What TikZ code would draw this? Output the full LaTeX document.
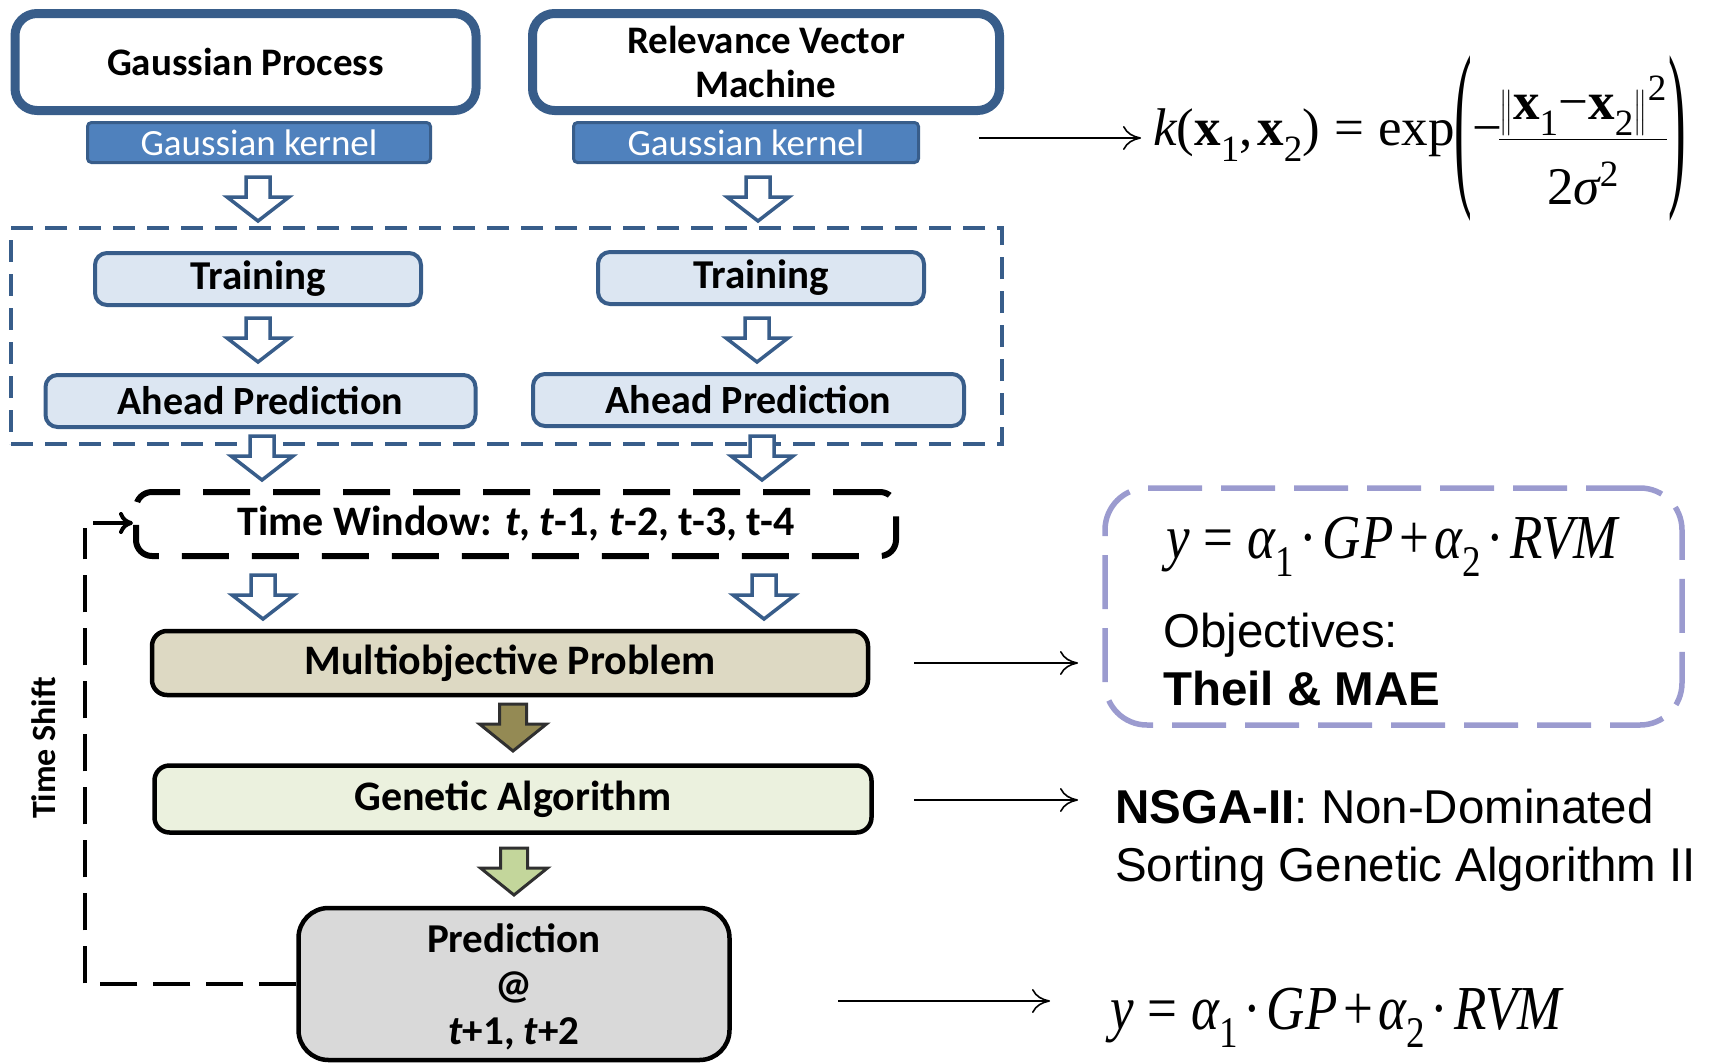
\documentclass[tikz,border=0pt]{standalone}
\usepackage{fontspec}
\usepackage{amsmath}
\usepackage{graphicx}
\usetikzlibrary{arrows.meta}

\newfontfamily\calfont{Carlito}
\newfontfamily\arialfont{Liberation Sans}
\newfontfamily\tmsfont{Liberation Serif}

\definecolor{bdark}{HTML}{385D8A}
\definecolor{kfill}{HTML}{4F81BD}
\definecolor{lblue}{HTML}{DCE6F2}
\definecolor{mopfill}{HTML}{DDD9C3}
\definecolor{gafill}{HTML}{EBF1DE}
\definecolor{predfill}{HTML}{D9D9D9}
\definecolor{olivearr}{HTML}{948A54}
\definecolor{greenarr}{HTML}{C3D69B}
\definecolor{arrline}{HTML}{303030}
\definecolor{lavender}{HTML}{9B9BCF}

% formula pieces set in a Times-like face
\newcommand\fmi[1]{\text{\tmsfont\itshape #1}}
\newcommand\fmr[1]{\text{\tmsfont #1}}
\newcommand\fmb[1]{\text{\tmsfont\bfseries #1}}
\newcommand\tallparen[1]{\vcenter{\hbox{\scalebox{1}[3.45]{\tmsfont #1}}}}
\newcommand\combo{\scalebox{1}[1.18]{$\fmi{y}\;\mathrel{\fmr{=}}\;\fmi{α}_{\fmr{1}}\mathbin{\fmr{·}}\fmi{GP}\mathbin{\fmr{+}}\fmi{α}_{\fmr{2}}\mathbin{\fmr{·}}\fmi{RVM}$}}

\begin{document}
\begin{tikzpicture}[x=1pt,y=-1pt,
  lbl/.style={font=\calfont\bfseries\fontsize{39}{44}\selectfont, align=center, inner sep=0pt},
  biglbl/.style={font=\calfont\bfseries\fontsize{42}{46}\selectfont},
  modelbox/.style={lbl, draw=bdark, line width=9pt, fill=white, rounded corners=22pt},
  kernelbox/.style={draw=bdark, line width=3pt, fill=kfill, rounded corners=4pt,
    text=white, font=\calfont\fontsize{37}{40}\selectfont, inner sep=0pt},
  trainbox/.style={lbl, draw=bdark, line width=4pt, fill=lblue, rounded corners=12pt},
  blackbox/.style={lbl, biglbl, draw=black, line width=4.5pt, rounded corners=15pt},
  groupframe/.style={draw=bdark, line width=4.5pt, dash pattern=on 22pt off 12pt},
  windowbox/.style={lbl, biglbl, draw=black, line width=6pt, dash pattern=on 47pt off 23pt, rounded corners=16pt},
  objframe/.style={draw=lavender, line width=5.5pt, dash pattern=on 54pt off 19pt, rounded corners=42pt},
  feedback/.style={draw=black, line width=4pt, dash pattern=on 37pt off 16pt},
  feedin/.style={draw=black, line width=4pt, -{Computer Modern Rightarrow[length=14pt,width=22pt]}},
  thinarrow/.style={draw=black, line width=1.6pt, -{Computer Modern Rightarrow[length=18pt,width=24pt]}},
  formula/.style={inner sep=0pt, font=\tmsfont\fontsize{53}{58}\selectfont},
  sidetext/.style={inner sep=0pt, font=\arialfont\fontsize{47.5}{54}\selectfont},
  pics/hollowdown/.style={code={
    \draw[line width=3.5pt, draw=bdark, fill=white, line join=miter]
      (-12,0) -- (12,0) -- (12,20) -- (31,20) -- (0,44) -- (-31,20) -- (-12,20) -- cycle;}},
  pics/solidown/.style={code={
    \draw[line width=3pt, draw=arrline, fill=#1, line join=miter]
      (-13.5,0) -- (13.5,0) -- (13.5,20) -- (33.5,20) -- (0,47) -- (-33.5,20) -- (-13.5,20) -- cycle;}}
]
\useasboundingbox (0,0) rectangle (1711,1063);

% two learners with their kernels
\node[modelbox, minimum width=461pt, minimum height=97pt] (gp) at (245.5,62) {Gaussian Process};
\node[modelbox, minimum width=467pt, minimum height=97pt] (rvm) at (766,62) {Relevance Vector\\Machine};
\node[kernelbox, minimum width=343pt, minimum height=40pt] (gpk) at (259,142.5) {Gaussian kernel};
\node[kernelbox, minimum width=345pt, minimum height=40pt] (rvmk) at (746,142.5) {Gaussian kernel};

% kernel definition
\node[formula, anchor=west] (kform) at (1153,139)
  {$\displaystyle \fmi{k}\fmr{(}\fmb{x}_{\fmr{1}}\fmr{,}\,\fmb{x}_{\fmr{2}}\fmr{)}
   \;\mathrel{\fmr{=}}\;\fmr{exp}\tallparen{(}\fmr{−}\!
   \frac{\left\|\fmb{x}_{\fmr{1}}\fmr{−}\fmb{x}_{\fmr{2}}\right\|^{\fmr{2}}}{\rule{0pt}{62pt}\fmr{2}\fmi{σ}^{\fmr{2}}}
   \tallparen{)}$};
\coordinate (kfrom) at (979,138);
\draw[thinarrow] (kfrom) -- ([xshift=-12pt]kfrom -| kform.west);

\pic at (258,177) {hollowdown};
\pic at (758,177) {hollowdown};

% training and ahead prediction
\node[groupframe, minimum width=991pt, minimum height=216pt, inner sep=0pt] (grp) at (506.5,336) {};
\node[trainbox, minimum width=326pt, minimum height=52pt, font=\calfont\bfseries\fontsize{41}{44}\selectfont] (trl) at (258,279) {Training};
\node[trainbox, minimum width=326pt, minimum height=52pt, font=\calfont\bfseries\fontsize{41}{44}\selectfont] (trr) at (761,278) {Training};
\pic at (258,318) {hollowdown};
\pic at (757,318) {hollowdown};
\node[trainbox, minimum width=430pt, minimum height=52pt, font=\calfont\bfseries\fontsize{40}{44}\selectfont] (ahl) at (260.5,401) {Ahead Prediction};
\node[trainbox, minimum width=431pt, minimum height=52pt, font=\calfont\bfseries\fontsize{40}{44}\selectfont] (ahr) at (748.5,400) {Ahead Prediction};
\pic at (262,436) {hollowdown};
\pic at (762,436) {hollowdown};

% sliding time window
\node[windowbox, minimum width=760pt, minimum height=64pt] (tw) at (516,524)
  {Time Window: \textit{t}, \textit{t}-1, \textit{t}-2, t-3, t-4};
\pic at (263,575) {hollowdown};
\pic at (764,575) {hollowdown};

% optimisation chain
\node[blackbox, fill=mopfill, minimum width=716pt, minimum height=64pt] (mop) at (510,663) {Multiobjective Problem};
\pic at (513,704) {solidown=olivearr};
\node[blackbox, fill=gafill, minimum width=717pt, minimum height=67pt] (ga) at (513,799) {Genetic Algorithm};
\pic at (514,848) {solidown=greenarr};
\node[blackbox, fill=predfill, rounded corners=30pt, minimum width=431pt, minimum height=152pt,
  font=\calfont\bfseries\fontsize{41}{46}\selectfont] (pred) at (514,984)
  {\rule{0pt}{34pt}Prediction\\@\\\textit{t}+1, \textit{t}+2};

% time shift feedback
\coordinate (fbtop) at (85,528);
\coordinate (fbin) at (93,523);
\draw[feedback] (pred.west) -| (fbtop);
\draw[feedin] (fbin) -- (fbin -| tw.west);
\node[font=\calfont\bfseries\fontsize{34}{36}\selectfont, rotate=90, inner sep=0pt] (ts) at (44,748) {Time Shift};

% objectives
\node[objframe, minimum width=577pt, minimum height=237pt, inner sep=0pt] (obj) at (1393.5,606.5) {};
\coordinate (mopfrom) at (914,663);
\coordinate (mopto) at (1078,663);
\draw[thinarrow] (mopfrom) -- (mopto);
\node[formula, anchor=base west] (objf) at (1166,558) {\combo};
\node[sidetext, anchor=base west] (objt) at (1163,647) {Objectives:};
\node[sidetext, anchor=base west, font=\arialfont\bfseries\fontsize{47.5}{54}\selectfont] (objm) at (1163,705) {Theil \& MAE};

% optimiser
\node[sidetext, anchor=base west] (ns1) at (1115,823) {\textbf{NSGA-II}: Non-Dominated};
\node[sidetext, anchor=base west] (ns2) at (1115,881) {Sorting Genetic Algorithm II};
\coordinate (gafrom) at (914,800);
\coordinate (gato) at (1078,800);
\draw[thinarrow] (gafrom) -- (gato);

% combined forecast
\node[formula, anchor=base west] (fin) at (1110,1029) {\combo};
\coordinate (predfrom) at (838,1001);
\coordinate (predto) at (1050,1001);
\draw[thinarrow] (predfrom) -- (predto);
\end{tikzpicture}
\end{document}
